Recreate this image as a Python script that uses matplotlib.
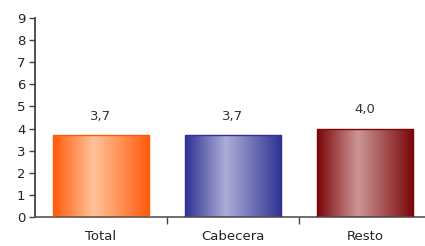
"""Bar chart with horizontal gradient bars (Total / Cabecera / Resto)"""

import matplotlib
matplotlib.use('Agg')
import matplotlib.pyplot as plt
import numpy as np
from matplotlib.colors import LinearSegmentedColormap

categories = ['Total', 'Cabecera', 'Resto']
values = [3.7, 3.7, 4.0]
value_labels = ['3,7', '3,7', '4,0']

# edge colour, centre colour for each bar
edge_colors = ['#ff5a0a', '#2e3192', '#7a0608']
center_colors = ['#ffc49a', '#adadd8', '#cc9696']

plt.rcParams['font.family'] = ['DejaVu Sans']

fig = plt.figure(figsize=(4.25, 2.46), dpi=100)
ax = fig.add_axes([35 / 425, 29 / 246, 396 / 425, 199 / 246])

x = np.arange(len(categories))
width = 0.73
bars = ax.bar(x, values, width, facecolor='none', edgecolor='none', zorder=2)

# gradient fill for every bar
grad = np.linspace(0, 1, 256).reshape(1, -1)
for bar, c_edge, c_mid in zip(bars, edge_colors, center_colors):
    cmap = LinearSegmentedColormap.from_list(
        'g', [(0, c_edge), (0.42, c_mid), (1, c_edge)])
    x0, y0 = bar.get_x(), bar.get_y()
    w, h = bar.get_width(), bar.get_height()
    im = ax.imshow(grad, cmap=cmap, aspect='auto', extent=(x0, x0 + w, y0, y0 + h),
                   zorder=2, interpolation='bicubic')
    im.set_clip_path(bar)
    ax.add_patch(plt.Rectangle((x0, y0), w, h, fill=False, edgecolor=c_edge,
                               linewidth=1.0, zorder=3))

for xi, v, lab in zip(x, values, value_labels):
    ax.text(xi, v + 0.55, lab, ha='center', va='bottom', fontsize=9.5,
            color='#333333', weight='medium')

ax.set_xlim(-0.5, 2.5)
ax.set_ylim(0, 9)
ax.set_yticks(range(0, 10))
ax.set_xticks([0.5, 1.5], minor=False)
ax.set_xticklabels([])
ax.set_xticks(x, minor=True)
ax.set_xticklabels(categories, minor=True, fontsize=9.5, color='#222222')
ax.tick_params(axis='x', which='minor', length=0, pad=9)
ax.tick_params(axis='x', which='major', length=5, width=1, color='#444444')
ax.tick_params(axis='y', length=4, width=1, color='#444444', labelsize=9.5,
               labelcolor='#222222', pad=3)

for s in ['top', 'right']:
    ax.spines[s].set_visible(False)
ax.spines['left'].set_color('#333333')
ax.spines['bottom'].set_color('#555555')
ax.spines['left'].set_linewidth(1.2)
ax.spines['bottom'].set_linewidth(1.2)

fig.savefig('out.png', dpi=100)
